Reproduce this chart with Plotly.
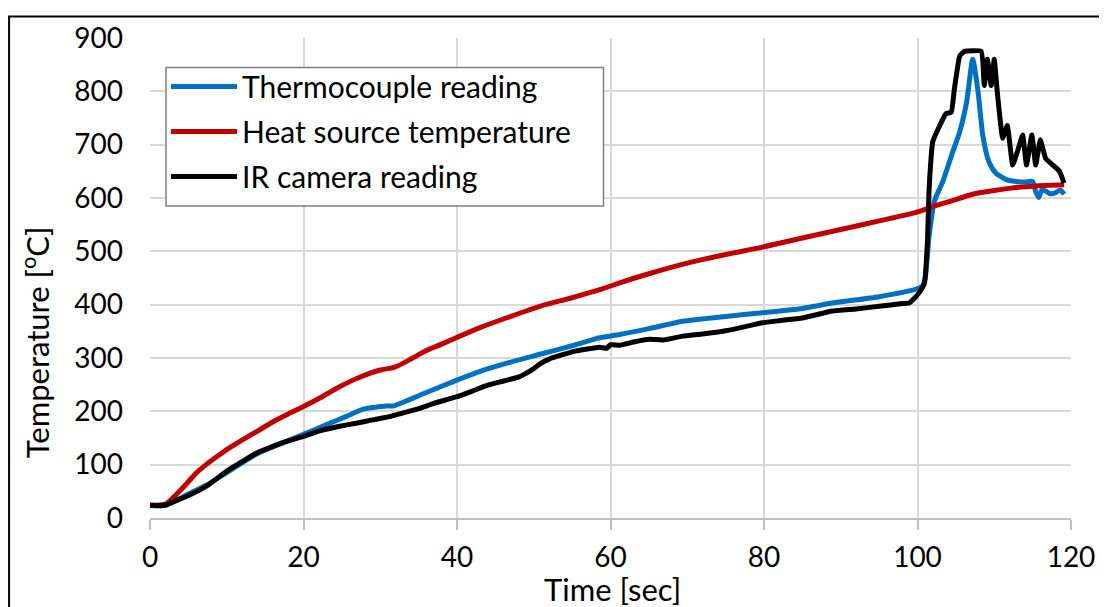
import plotly.graph_objects as go

# ---- data ----
tc_time = [0, 1, 2, 3, 5, 7.4, 10, 13.9, 17, 20, 23, 25.5, 27.8, 30.8, 31.7, 33.5, 35.6, 39.9, 43, 46.4,
           50.8, 55, 58.6, 61.2, 65, 69.4, 75, 79.8, 85, 88.9, 95, 99.8, 100.6, 101.0, 101.5, 102.2, 103.3,
           104.6, 105.5, 106.4, 107.2, 107.9, 108.5, 109.3, 110.2, 111.5, 112.8, 114, 115, 115.4, 115.8,
           116.2, 116.7, 117.3, 118, 118.6, 119.1]
tc_temp = [24, 24, 25, 30, 45, 62, 85, 120, 139, 157, 175, 190, 204, 210, 210, 220, 233, 258, 275, 290,
           307, 323, 338, 344, 355, 369, 378, 385, 393, 403, 415, 429, 434, 450, 527, 594, 631,
           687, 724, 780, 860, 798, 718, 668, 647, 635, 631, 630, 631, 612, 601,
           615, 613, 608, 610, 615, 607]

hs_time = [0, 1, 2, 3, 3.9, 5, 6, 7.4, 9, 10.4, 12, 14, 16.1, 18, 20, 22, 24.7, 27, 29.9, 31.9, 34, 36, 38,
           39.9, 43, 46.4, 50.8, 55, 58.6, 61.2, 65, 70, 75, 79.8, 85, 90, 95, 99.8, 102, 104.1, 107.2,
           110, 112.4, 115, 117, 119.1]
hs_temp = [24, 24, 26, 38, 51, 68, 84, 101, 118, 132, 146, 163, 181, 195, 209, 224, 246, 262, 277, 283,
           298, 314, 326, 338, 357, 375, 397, 413, 428, 441, 458, 478, 494, 508, 525, 541, 557, 573, 584,
           593, 607, 614, 619, 622, 624, 625]

ir_time = [0, 1, 2, 3, 5, 7.4, 10, 13.9, 17, 20, 22, 24.7, 27, 29, 31.2, 33, 35, 37, 39.9, 42, 44, 46.4,
           48, 49.1, 50, 50.8, 52, 55.1, 57, 58.6, 59.5, 60, 61.2, 63, 65.1, 67, 69.4, 72, 75, 77, 79.8,
           82, 85, 88.9, 92, 95, 98, 98.9, 99.6, 100.2, 100.9, 101.3, 101.5, 102, 102.9, 103.7, 104.4,
           104.8, 105.5, 106.1, 108.3, 108.7, 109.1, 109.6, 110, 110.4, 111.1, 111.7, 112.4, 113, 113.7,
           114.2, 114.9, 115.4, 116, 116.7, 117.6, 118.5, 119.1]
ir_temp = [24, 23, 24, 30, 42, 60, 88, 122, 140, 153, 163, 172, 178, 184, 190, 197, 205, 215, 227, 238,
           249, 258, 264, 272, 280, 289, 298, 312, 317, 320, 318, 325, 324, 330, 335, 334, 341, 345, 351,
           357, 366, 370, 375, 388, 392, 397, 402, 403, 412, 422, 440, 520, 613, 706, 736, 758, 761,
           804, 866, 875, 875, 811, 860, 811, 860, 798, 712, 736, 662, 686, 718,
           662, 718, 662, 709, 674, 662, 650, 628]

series_names = ["Thermocouple reading", "Heat source temperature", "IR camera reading"]
x_ticks = [0, 20, 40, 60, 80, 100, 120]
y_ticks = [0, 100, 200, 300, 400, 500, 600, 700, 800, 900]

FONT = "Lato"
fig = go.Figure()
for name, xs, ys, col, sm in [
    (series_names[0], tc_time, tc_temp, "#0070C0", 0.6),
    (series_names[1], hs_time, hs_temp, "#C00000", 0.8),
    (series_names[2], ir_time, ir_temp, "#000000", 0.35),
]:
    fig.add_trace(go.Scatter(x=xs, y=ys, mode="lines", name=name, legendgroup=name,
                             line=dict(color=col, width=5, shape="spline", smoothing=sm)))

# the page body has an 8px margin, so the figure is drawn 8px smaller and offset
fig.update_layout(
    width=1099, height=599,
    margin=dict(l=142, r=35, t=24, b=89),
    paper_bgcolor="white", plot_bgcolor="white",
    font=dict(family=FONT, size=28, color="black"),
    showlegend=True,
    legend=dict(x=0.0174, y=0.953, xanchor="left", yanchor="top",
                bgcolor="rgba(0,0,0,0)", borderwidth=0, itemwidth=66,
                font=dict(family=FONT, size=30), tracegroupgap=3),
    xaxis=dict(range=[0, 120], tickvals=x_ticks, showgrid=True, gridcolor="#d9d9d9", gridwidth=1.5,
               zeroline=False, showline=True, linecolor="#bfbfbf", linewidth=1.5,
               ticks="outside", ticklen=10, tickcolor="#bfbfbf", tickwidth=1.5,
               ticklabelstandoff=4, tickfont=dict(size=28)),
    yaxis=dict(range=[0, 900], tickvals=y_ticks, showgrid=True, gridcolor="#d9d9d9", gridwidth=1.5,
               zeroline=False, showline=False, ticks="", ticklabelstandoff=26,
               tickfont=dict(size=28)),
    annotations=[
        dict(text="Time [sec]", xref="paper", yref="paper", x=0.502, y=-0.148,
             xanchor="center", yanchor="middle", showarrow=False, font=dict(size=31)),
        dict(text="Temperature [<sup>o</sup>C]", xref="paper", yref="paper", x=-0.125, y=0.366,
             xanchor="center", yanchor="middle", textangle=-90, showarrow=False, font=dict(size=31)),
    ],
    shapes=[
        dict(type="rect", xref="paper", yref="paper", x0=-0.153, x1=1.3, y0=-0.4, y1=1.045,
             line=dict(color="black", width=2), layer="below"),
        # legend frame
        dict(type="rect", xref="paper", yref="paper", x0=0.0174, x1=0.4924, y0=0.6502, y1=0.9383,
             line=dict(color="#7f7f7f", width=1.5), fillcolor="white", layer="above"),
    ],
)

fig.write_html("out.html")
